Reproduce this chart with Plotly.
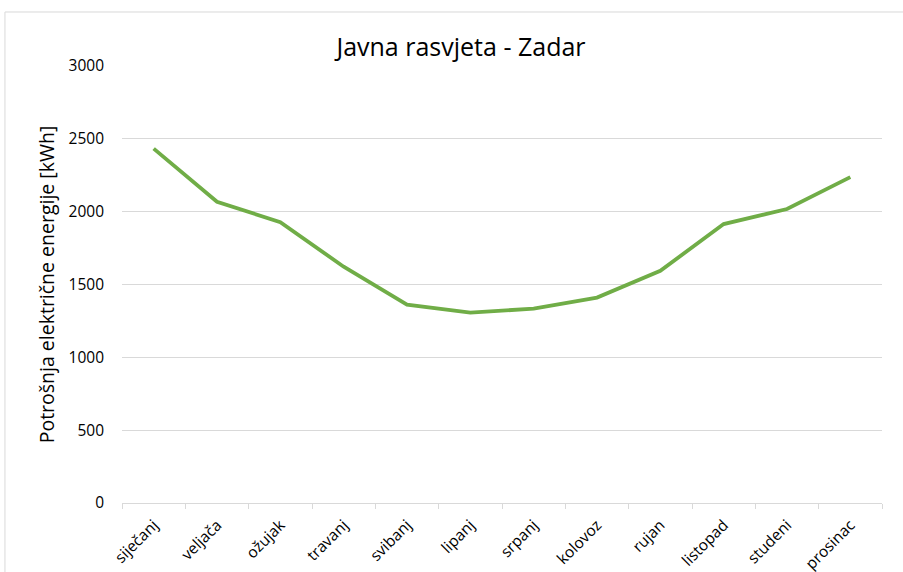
import plotly.graph_objects as go

months = ["siječanj", "veljača", "ožujak", "travanj", "svibanj", "lipanj",
          "srpanj", "kolovoz", "rujan", "listopad", "studeni", "prosinac"]
consumption = [2433, 2068, 1928, 1622, 1362, 1307, 1334, 1410, 1594, 1915, 2018, 2237]
y_ticks = [0, 500, 1000, 1500, 2000, 2500, 3000]

fig = go.Figure()
fig.add_trace(go.Scatter(
    x=months, y=consumption, mode="lines",
    line=dict(color="#70AD47", width=3.8),
    hoverinfo="x+y",
))

font_family = "Open Sans, Noto Sans, sans-serif"
fig.update_layout(
    width=903, height=572,
    margin=dict(l=122, r=21, t=66, b=69),
    paper_bgcolor="white", plot_bgcolor="white",
    showlegend=False,
    font=dict(family=font_family, color="#000000", size=15),
    title=dict(text="Javna rasvjeta - Zadar", x=461 / 903, xref="container", xanchor="center",
               y=1 - 47 / 572, yref="container", yanchor="middle",
               font=dict(size=25, color="#000000", family=font_family)),
    xaxis=dict(
        type="category", range=[-0.5, 11.5], tickangle=-45, showgrid=False,
        showline=True, linecolor="#D9D9D9", linewidth=1,
        ticks="outside", tickson="boundaries", ticklen=5, tickcolor="#D9D9D9",
        tickfont=dict(size=15.5, color="#000000"), zeroline=False, automargin=False,
        ticklabelstandoff=6,
    ),
    yaxis=dict(
        range=[0, 3000], tickvals=y_ticks, showgrid=True, gridcolor="#D9D9D9",
        gridwidth=1, zeroline=False, showline=False, ticks="",
        tickfont=dict(size=15.5, color="#000000"), ticklabelstandoff=17,
        automargin=False,
        title=dict(text="Potrošnja električne energije [kWh]", standoff=8,
                   font=dict(size=19.5, color="#000000")),
    ),
)

fig.add_shape(type="rect", xref="paper", yref="paper",
              x0=-0.154, x1=1.1, y0=-0.3, y1=1.1236,
              line=dict(color="#D9D9D9", width=1), fillcolor="rgba(0,0,0,0)", layer="below")

fig.write_html("out.html", config={"displayModeBar": False},
               post_script="document.body.style.margin='0';")
